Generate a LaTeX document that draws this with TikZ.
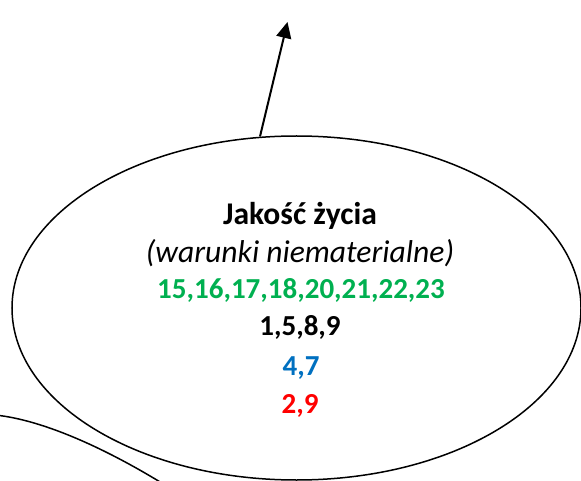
\documentclass[tikz,border=0pt]{standalone}
\usepackage{fontspec}
\setmainfont{Carlito}
\usetikzlibrary{arrows.meta,shapes.geometric}
\definecolor{ogreen}{RGB}{0,176,80}
\definecolor{oblue}{RGB}{0,112,192}
\definecolor{ored}{RGB}{255,0,0}
\begin{document}
\begin{tikzpicture}[x=1pt,y=-1pt,
  txt/.style={anchor=base,inner sep=0pt},
  title/.style={font=\fontsize{31.6}{36}\selectfont\bfseries},
  sub/.style={font=\fontsize{31.6}{36}\selectfont\itshape},
  num/.style={font=\fontsize{29}{34}\selectfont\bfseries},
  oval/.style={draw,ellipse,line width=1.5pt,inner sep=0pt},
  link/.style={line width=2pt,-{Triangle[length=16pt,width=15pt]}}]
\useasboundingbox (0,0) rectangle (581,481);
\begin{scope}
\clip (0,0) rectangle (581,481);
\node[oval,minimum width=569pt,minimum height=344pt] (E) at (296.5,308) {};
\draw[line width=1.5pt] (-5,415) .. controls (45,420) and (110,451) .. (165,485);
\end{scope}
\node[txt,title] (t1) at (300,225) {Jakość życia};
\node[txt,sub] (t2) at (300,262) {(warunki niematerialne)};
\node[txt,num,text=ogreen] (t3) at (301,298) {15,16,17,18,20,21,22,23};
\node[txt,num] (t4) at (300,335) {1,5,8,9};
\node[txt,num,text=oblue] (t5) at (301,375) {4,7};
\node[txt,num,text=ored] (t6) at (300,413) {2,9};
\coordinate (a0) at (260,136.5);
\coordinate (a1) at (287.5,22);
\draw[link] (a0) -- (a1);
\end{tikzpicture}
\end{document}
